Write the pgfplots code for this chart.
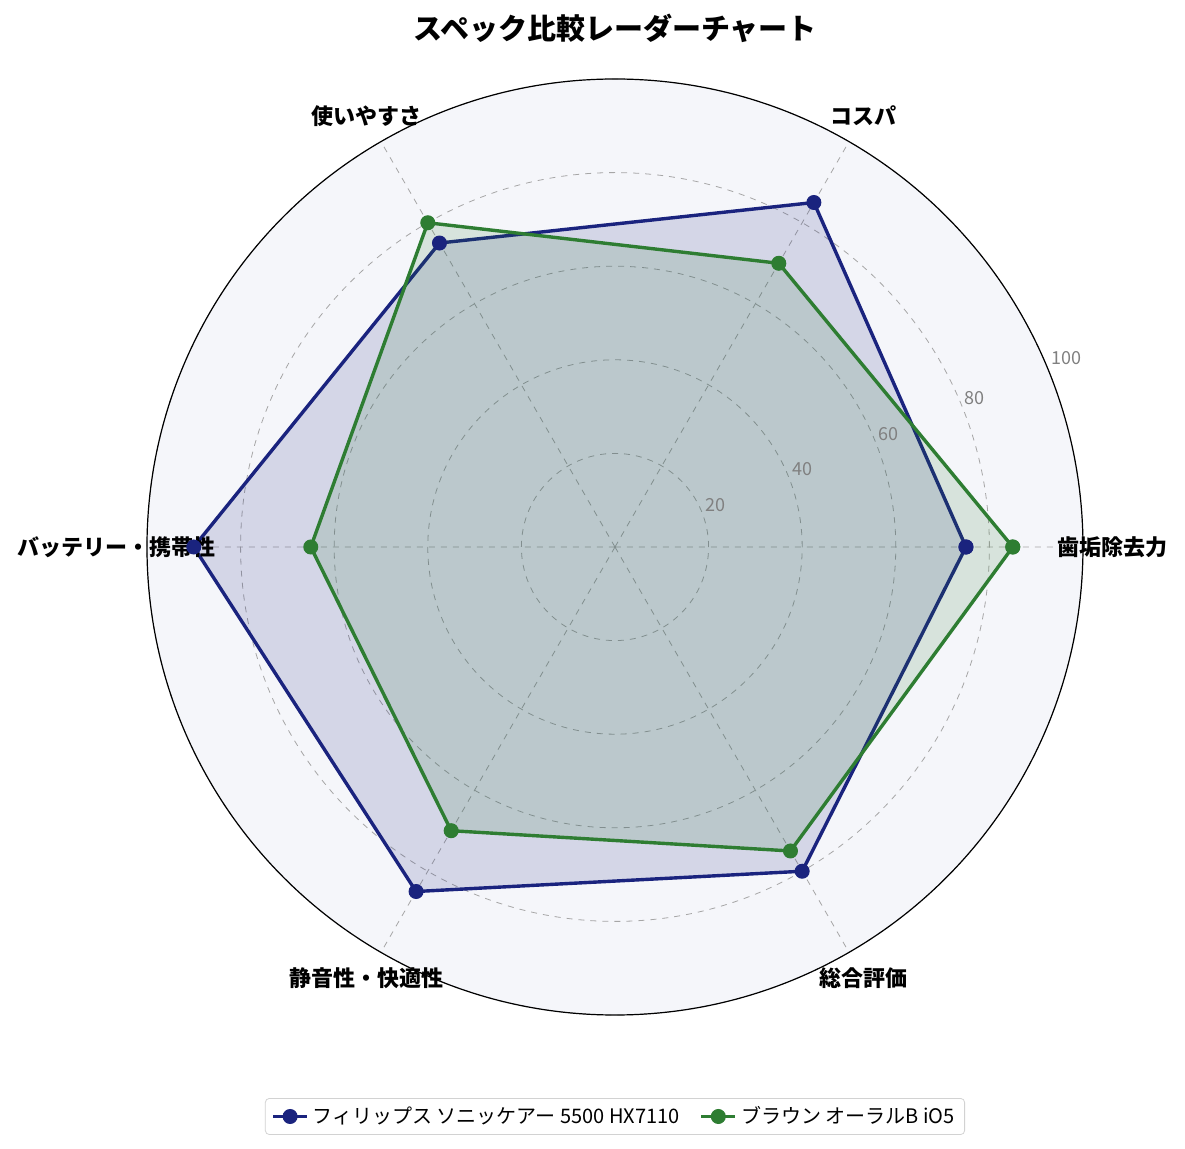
\documentclass[border=0pt]{standalone}
\usepackage{fontspec}
\setmainfont{Noto Sans CJK JP}
\usepackage{pgfplots}
\pgfplotsset{compat=1.18}
\usepgfplotslibrary{polar}
\definecolor{navyc}{RGB}{26,35,126}
\definecolor{greenc}{RGB}{46,125,50}
\definecolor{bgc}{RGB}{245,246,250}
\definecolor{tickc}{RGB}{128,128,128}

\begin{document}
\begin{tikzpicture}
\useasboundingbox (-307.5pt,-301pt) rectangle (285pt,273.5pt);
\fill[bgc] (0,0) circle (234pt);
\begin{polaraxis}[
  at={(0,0)}, anchor=origin,
  width=468pt, height=468pt, scale only axis,
  ymin=0, ymax=100,
  xtick={0,60,120,180,240,300},
  xticklabels={},
  ytick={20,40,60,80,100},
  yticklabels={},
  grid=major,
  major grid style={dashed, gray!70, line width=0.4pt},
  x axis line style={black, line width=0.6pt},
  y axis line style={draw=none},
  tick style={draw=none},
  clip=false,
  legend columns=2,
  legend style={at={(0.5,-0.0887)}, anchor=north, draw=gray!35,
    rounded corners=2pt, font=\fontsize{10}{12}\selectfont,
    /tikz/every even column/.append style={column sep=8pt}},
]
% Philips
\addplot[navyc, line width=1.7pt, mark=*, mark size=3.5pt,
  fill=navyc, fill opacity=0.15, draw opacity=1,
  mark options={fill=navyc, fill opacity=1, line width=0.5pt}]
  coordinates {(0,75) (60,85) (120,75) (180,90) (240,85) (300,80) (360,75)};
\addlegendentry{フィリップス ソニッケアー 5500 HX7110}
% Braun
\addplot[greenc, line width=1.7pt, mark=*, mark size=3.5pt,
  fill=greenc, fill opacity=0.15, draw opacity=1,
  mark options={fill=greenc, fill opacity=1, line width=0.5pt}]
  coordinates {(0,85) (60,70) (120,80) (180,65) (240,70) (300,75) (360,85)};
\addlegendentry{ブラウン オーラルB iO5}

\node[text=tickc, font=\fontsize{9}{11}\selectfont] at (axis cs:22.5,23.3) {20};
\node[text=tickc, font=\fontsize{9}{11}\selectfont] at (axis cs:22.5,43.3) {40};
\node[text=tickc, font=\fontsize{9}{11}\selectfont] at (axis cs:22.5,63.3) {60};
\node[text=tickc, font=\fontsize{9}{11}\selectfont] at (axis cs:22.5,83.1) {80};
\node[text=tickc, font=\fontsize{9}{11}\selectfont] at (axis cs:22.7,104.5) {100};

\node[font=\bfseries\fontsize{11}{13}\selectfont] at (axis cs:0,106.4) {歯垢除去力};
\node[font=\bfseries\fontsize{11}{13}\selectfont] at (axis cs:60,106.4) {コスパ};
\node[font=\bfseries\fontsize{11}{13}\selectfont] at (axis cs:120,106.4) {使いやすさ};
\node[font=\bfseries\fontsize{11}{13}\selectfont] at (axis cs:180,106.6) {バッテリー・携帯性};
\node[font=\bfseries\fontsize{11}{13}\selectfont] at (axis cs:240,106.4) {静音性・快適性};
\node[font=\bfseries\fontsize{11}{13}\selectfont] at (axis cs:300,106.4) {総合評価};
\end{polaraxis}
\node[font=\bfseries\fontsize{14.5}{17}\selectfont] at (0,259.5pt) {スペック比較レーダーチャート};
\end{tikzpicture}
\end{document}
